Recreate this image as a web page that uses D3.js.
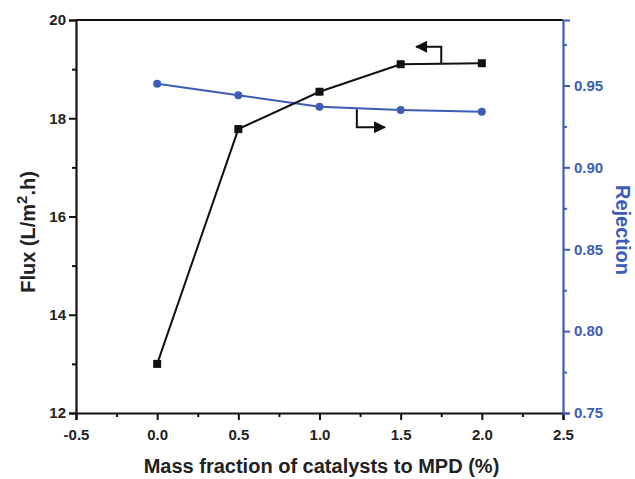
<!DOCTYPE html>
<html>
<head>
<meta charset="utf-8">
<script src="https://cdn.jsdelivr.net/npm/d3@7"></script>
<style>
  body { margin: 0; background: #fff; }
  text { font-family: "Liberation Sans", Arial, sans-serif; font-weight: bold; }
</style>
</head>
<body>
<script>
const massFraction = [0.0, 0.5, 1.0, 1.5, 2.0]
const flux = [13.0, 17.78, 18.54, 19.1, 19.12]
const rejection = [0.951, 0.944, 0.937, 0.935, 0.934]

const xTicks = [-0.5, 0.0, 0.5, 1.0, 1.5, 2.0, 2.5]
const fluxTicks = [12, 14, 16, 18, 20]
const rejTicks = [0.75, 0.80, 0.85, 0.90, 0.95]

const blue = "#3d5cb8"
const W = 635, H = 479
const plotL = 76, plotR = 563, plotT = 20, plotB = 413

const svg = d3.select("body").append("svg")
  .attr("width", W)
  .attr("height", H)

let x = d3.scaleLinear().domain([-0.5, 2.5]).range([plotL, plotR])
let yFlux = d3.scaleLinear().domain([12, 20]).range([plotB, plotT])
let yRej = d3.scaleLinear().domain([0.75, 0.99]).range([plotB, plotT])

// plain hyphen for negatives, like the original
let fmt1 = d => d.toFixed(1)

// top frame
svg.append("line")
  .attr("x1", plotL).attr("x2", plotR)
  .attr("y1", plotT).attr("y2", plotT)
  .attr("stroke", "#111").attr("stroke-width", 2)

// minor ticks first, then major axis on top
svg.append("g")
  .attr("transform", `translate(0,${plotB})`)
  .call(d3.axisBottom(x).tickValues(d3.range(-0.25, 2.5, 0.5)).tickSize(4).tickFormat(""))
  .call(g => g.select(".domain").remove())
  .selectAll("line").attr("stroke", "#111").attr("stroke-width", 2)

svg.append("g")
  .attr("transform", `translate(${plotL},0)`)
  .call(d3.axisLeft(yFlux).tickValues([13, 15, 17, 19]).tickSize(4).tickFormat(""))
  .call(g => g.select(".domain").remove())
  .selectAll("line").attr("stroke", "#111").attr("stroke-width", 2)

svg.append("g")
  .attr("transform", `translate(${plotR},0)`)
  .call(d3.axisRight(yRej).tickValues([0.775, 0.825, 0.875, 0.925, 0.975]).tickSize(4).tickFormat(""))
  .call(g => g.select(".domain").remove())
  .selectAll("line").attr("stroke", blue).attr("stroke-width", 2)

let xAxis = svg.append("g")
  .attr("transform", `translate(0,${plotB})`)
  .call(d3.axisBottom(x).tickValues(xTicks).tickSize(7).tickPadding(9).tickFormat(fmt1))
xAxis.select(".domain").attr("stroke", "#111").attr("stroke-width", 2.2)
xAxis.selectAll("line").attr("stroke", "#111").attr("stroke-width", 2)
xAxis.selectAll("text").attr("fill", "#222").style("font-size", "15px")

let yAxis = svg.append("g")
  .attr("transform", `translate(${plotL},0)`)
  .call(d3.axisLeft(yFlux).tickValues(fluxTicks).tickSize(7).tickPadding(3))
yAxis.select(".domain").attr("stroke", "#111").attr("stroke-width", 2.2)
yAxis.selectAll("line").attr("stroke", "#111").attr("stroke-width", 2)
yAxis.selectAll("text").attr("fill", "#222").style("font-size", "15px")

let rAxis = svg.append("g")
  .attr("transform", `translate(${plotR},0)`)
  .call(d3.axisRight(yRej).tickValues(rejTicks).tickSize(7).tickPadding(4).tickFormat(d3.format(".2f")))
rAxis.select(".domain").attr("stroke", blue).attr("stroke-width", 2.2)
rAxis.selectAll("line").attr("stroke", blue).attr("stroke-width", 2)
rAxis.selectAll("text").attr("fill", blue).style("font-size", "15px")

// axis titles
svg.append("text")
  .attr("x", (plotL + plotR) / 2 + 2).attr("y", 473)
  .attr("text-anchor", "middle")
  .attr("fill", "#222")
  .style("font-size", "20px")
  .text("Mass fraction of catalysts to MPD (%)")

let fluxTitle = svg.append("text")
  .attr("transform", `translate(35,232) rotate(-90)`)
  .attr("text-anchor", "middle")
  .attr("fill", "#222")
  .style("font-size", "20px")
fluxTitle.append("tspan").text("Flux (L/m")
fluxTitle.append("tspan").attr("dy", -8).style("font-size", "15px").text("2")
fluxTitle.append("tspan").attr("dy", 8).text(".h)")

svg.append("text")
  .attr("transform", `translate(616,230) rotate(90)`)
  .attr("text-anchor", "middle")
  .attr("fill", blue)
  .style("font-size", "20px")
  .text("Rejection")

// series
let data = massFraction.map((m, i) => ({ m: m, f: flux[i], r: rejection[i] }))

svg.append("path")
  .datum(data)
  .attr("fill", "none")
  .attr("stroke", blue)
  .attr("stroke-width", 2)
  .attr("d", d3.line().x(d => x(d.m)).y(d => yRej(d.r)))

svg.selectAll(".rej")
  .data(data)
  .join("circle")
  .attr("cx", d => x(d.m))
  .attr("cy", d => yRej(d.r))
  .attr("r", 4)
  .attr("fill", blue)

svg.append("path")
  .datum(data)
  .attr("fill", "none")
  .attr("stroke", "#111")
  .attr("stroke-width", 2)
  .attr("d", d3.line().x(d => x(d.m)).y(d => yFlux(d.f)))

svg.selectAll(".flux")
  .data(data)
  .join("rect")
  .attr("x", d => x(d.m) - 4)
  .attr("y", d => yFlux(d.f) - 4)
  .attr("width", 8)
  .attr("height", 8)
  .attr("fill", "#111")

// arrows pointing to each series' axis
svg.append("defs").append("marker")
  .attr("id", "head")
  .attr("viewBox", "0 0 10 10")
  .attr("refX", 9).attr("refY", 5)
  .attr("markerWidth", 14).attr("markerHeight", 12)
  .attr("markerUnits", "userSpaceOnUse")
  .attr("orient", "auto")
  .append("path")
  .attr("d", "M0,0L10,5L0,10Z")
  .attr("fill", "#111")

let ax1 = x(1.75), ay1 = yFlux(19.11)
svg.append("path")
  .attr("d", `M${ax1},${ay1}V${ay1 - 17}H${ax1 - 25}`)
  .attr("fill", "none").attr("stroke", "#111").attr("stroke-width", 2)
  .attr("marker-end", "url(#head)")

let ax2 = x(1.23), ay2 = yRej(0.9355)
svg.append("path")
  .attr("d", `M${ax2},${ay2}V${ay2 + 18}H${ax2 + 28}`)
  .attr("fill", "none").attr("stroke", "#111").attr("stroke-width", 2)
  .attr("marker-end", "url(#head)")
</script>
</body>
</html>
